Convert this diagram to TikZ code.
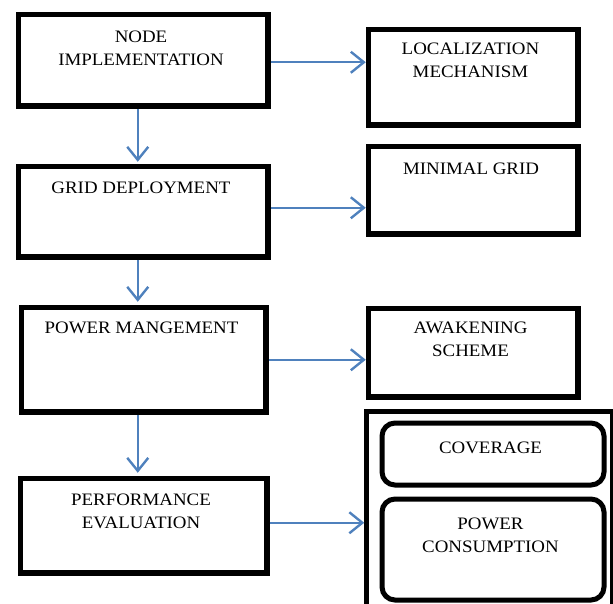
\documentclass[tikz,border=0pt]{standalone}
\usepackage{fontspec}
\setmainfont{Liberation Serif}[FakeStretch=1.08]
\usetikzlibrary{arrows.meta}
\definecolor{arrowblue}{HTML}{4F81BD}
\tikzset{
  box/.style={draw=black, line width=5.5pt, inner sep=0pt, anchor=north west},
  rbox/.style={draw=black, line width=5pt, rounded corners=13pt, inner sep=0pt, anchor=north west},
  lbl/.style={anchor=north, align=center, inner sep=0pt, font=\fontsize{17.5}{23}\selectfont},
  flow/.style={draw=arrowblue, line width=2.4pt, -{Straight Barb[length=13pt,width=21pt,line width=2.4pt]}}
}
\begin{document}
\begin{tikzpicture}[x=1pt,y=-1pt]
\clip (0,0) rectangle (613,603);
% left column
\node[box, minimum width=249.5pt, minimum height=91.5pt] (b1) at (15.75,11.75) {};
\node[box, minimum width=249.5pt, minimum height=90.5pt] (b2) at (15.75,163.75) {};
\node[box, minimum width=244.5pt, minimum height=104.5pt] (b3) at (18.75,304.75) {};
\node[box, minimum width=246.5pt, minimum height=94.5pt] (b4) at (17.75,475.75) {};
\node[lbl] (t1) at (141,30.5) {NODE\\IMPLEMENTATION};
\node[lbl] (t2) at (141,181.5) {GRID DEPLOYMENT};
\node[lbl] (t3) at (141.5,321.5) {POWER MANGEMENT};
\node[lbl] (t4) at (141,493.5) {PERFORMANCE\\EVALUATION};
% right column
\node[box, minimum width=209.5pt, minimum height=95.5pt] (r1) at (365.75,26.75) {};
\node[box, minimum width=209.5pt, minimum height=87.5pt] (r2) at (365.75,143.75) {};
\node[box, minimum width=209.5pt, minimum height=88.5pt] (r3) at (365.75,305.75) {};
\node[draw=black, line width=4.5pt, minimum width=245.5pt, minimum height=220pt, inner sep=0pt, anchor=north west] (r4) at (364.25,409.25) {};
\node[rbox, minimum width=222pt, minimum height=62pt] (c1) at (379.5,420.5) {};
\node[rbox, minimum width=222pt, minimum height=101pt] (c2) at (379.5,496.5) {};
\node[lbl] (u1) at (470.5,42.5) {LOCALIZATION\\MECHANISM};
\node[lbl] (u2) at (471,162.5) {MINIMAL GRID};
\node[lbl] (u3) at (470.5,321.5) {AWAKENING\\SCHEME};
\node[lbl] (v1) at (490.5,441.5) {COVERAGE};
\node[lbl] (v2) at (490.5,517.5) {POWER\\CONSUMPTION};
% vertical arrows
\draw[flow] ([xshift=-5.5pt]b1.south) -- ([xshift=-5.5pt,yshift=2pt]b1.south |- b2.north);
\draw[flow] ([xshift=-5.5pt]b2.south) -- ([xshift=-5.5pt,yshift=3pt]b2.south |- b3.north);
\draw[flow] ([xshift=-6pt]b3.south) -- ([xshift=-6pt,yshift=3pt]b3.south |- b4.north);
% horizontal arrows
\draw[flow] ([yshift=-2pt]b1.east) -- ([yshift=-2pt]r1.west |- b1.east);
\draw[flow] ([yshift=4pt]b2.east) -- ([yshift=4pt]r2.west |- b2.east);
\draw[flow] ([yshift=0pt]b3.east) -- ([yshift=0pt]r3.west |- b3.east);
\draw[flow] ([yshift=3pt]b4.east) -- ([yshift=3pt]r4.west |- b4.east);
\end{tikzpicture}
\end{document}
